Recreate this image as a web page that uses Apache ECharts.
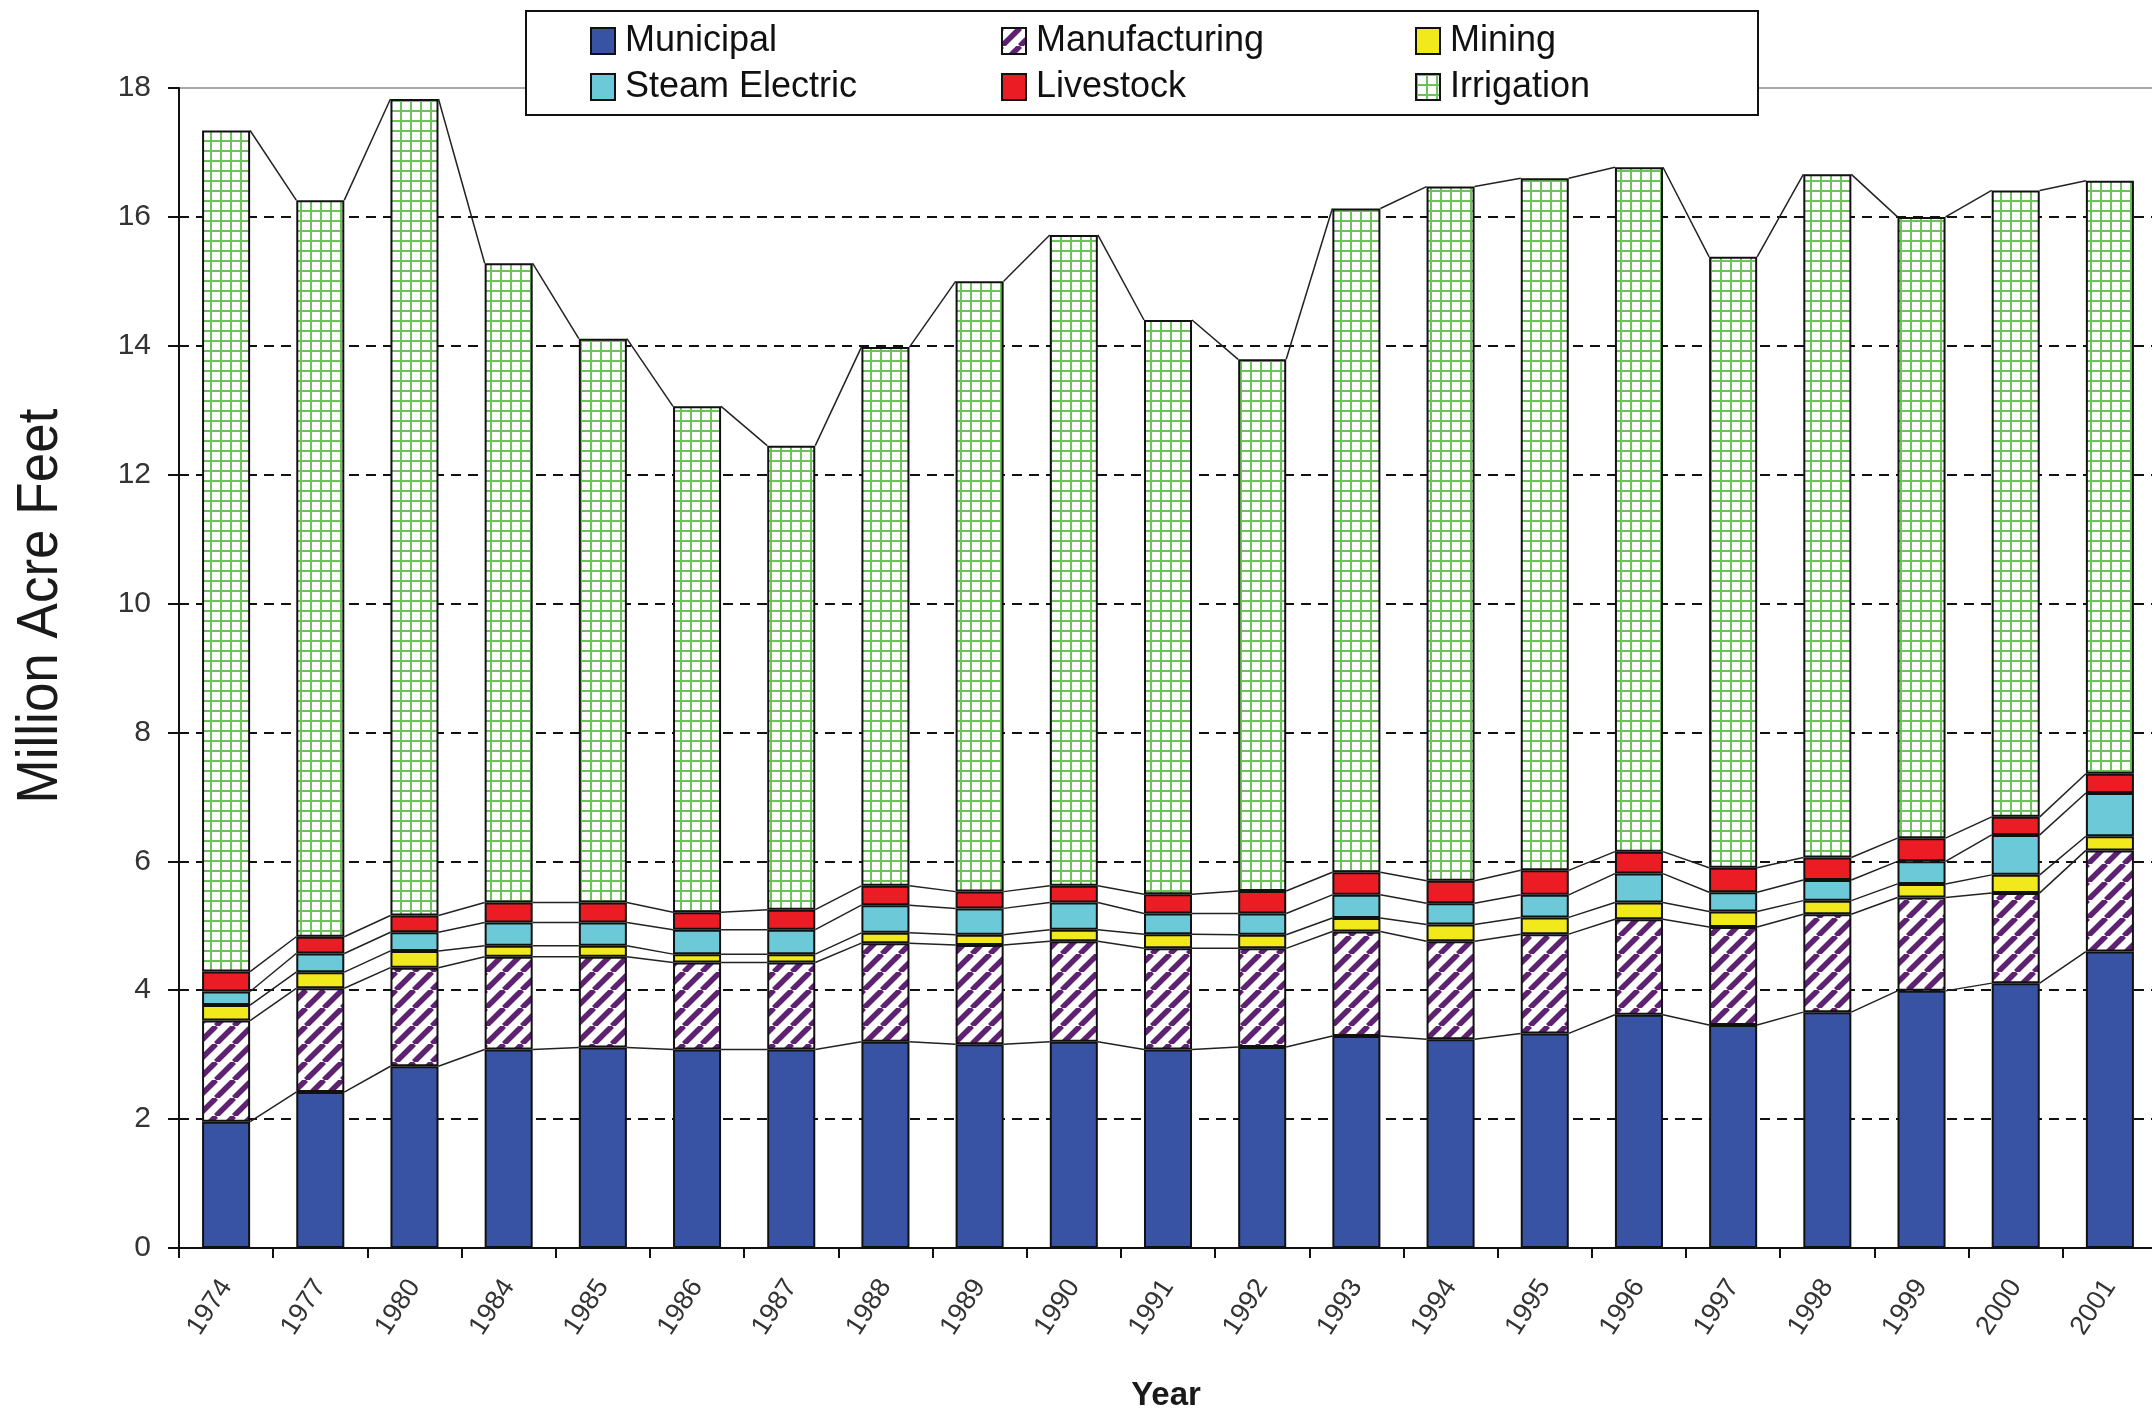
<!DOCTYPE html>
<html>
<head>
<meta charset="utf-8">
<script src="https://cdn.jsdelivr.net/npm/echarts@6/dist/echarts.min.js"></script>
<style>
  html, body { margin: 0; padding: 0; background: #fff; }
  #chart { width: 2152px; height: 1419px; }
</style>
</head>
<body>
<div id="chart"></div>
<script>
// Annual water use by category, million acre-feet
const years = ['1974','1977','1980','1984','1985','1986','1987','1988','1989','1990','1991',
               '1992','1993','1994','1995','1996','1997','1998','1999','2000','2001'];
const municipal     = [1.96,2.42,2.82,3.08,3.11,3.08,3.08,3.20,3.16,3.20,3.08,3.12,3.29,3.24,3.33,3.62,3.46,3.66,3.99,4.11,4.60];
const manufacturing = [1.57,1.61,1.53,1.44,1.41,1.35,1.35,1.53,1.54,1.56,1.57,1.53,1.62,1.52,1.54,1.48,1.52,1.52,1.45,1.40,1.57];
const mining        = [0.24,0.25,0.26,0.17,0.17,0.13,0.13,0.16,0.16,0.18,0.22,0.21,0.21,0.26,0.26,0.26,0.24,0.21,0.21,0.28,0.22];
const steamElectric = [0.21,0.29,0.29,0.36,0.36,0.38,0.38,0.43,0.41,0.42,0.32,0.33,0.36,0.33,0.35,0.45,0.30,0.32,0.35,0.62,0.67];
const livestock     = [0.31,0.26,0.26,0.31,0.31,0.27,0.31,0.30,0.26,0.26,0.30,0.35,0.35,0.35,0.38,0.34,0.38,0.35,0.36,0.28,0.30];
const irrigation    = [13.05,11.43,12.67,9.92,8.75,7.85,7.20,8.36,9.47,10.10,8.91,8.25,10.30,10.77,10.74,10.62,9.48,10.60,9.64,9.72,9.20];
const yTicks = [0, 2, 4, 6, 8, 10, 12, 14, 16, 18];

const seriesNames = ['Municipal','Manufacturing','Mining','Steam Electric','Livestock','Irrigation'];
const seriesValues = [municipal, manufacturing, mining, steamElectric, livestock, irrigation];

// Fill patterns
function stripePattern() {
  const s = 18, c = document.createElement('canvas');
  c.width = s; c.height = s;
  const g = c.getContext('2d');
  g.fillStyle = '#ffffff'; g.fillRect(0, 0, s, s);
  g.strokeStyle = '#5f2272'; g.lineWidth = 5.5;
  [-s, 0, s].forEach(ox => {
    g.beginPath(); g.moveTo(ox, s); g.lineTo(ox + s, 0); g.stroke();
  });
  return c;
}
function gridPattern() {
  const s = 10, c = document.createElement('canvas');
  c.width = s; c.height = s;
  const g = c.getContext('2d');
  g.fillStyle = '#ffffff'; g.fillRect(0, 0, s, s);
  g.fillStyle = '#6cc35a';
  g.fillRect(0, 0, s, 2);
  g.fillRect(0, 0, 2, s);
  return c;
}

const fills = [
  '#3953a4',
  { image: stripePattern(), repeat: 'repeat' },
  '#f1e91b',
  '#6ccad8',
  '#ec1c24',
  { image: gridPattern(), repeat: 'repeat' }
];

// Cumulative stack tops, used for the connector lines between bars
const n = years.length;
const cumulative = [];
let running = new Array(n).fill(0);
seriesValues.forEach(vals => {
  running = running.map((r, i) => +(r + vals[i]).toFixed(4));
  cumulative.push(running.slice());
});
const connectorData = [];
for (let i = 0; i < n - 1; i++) {
  connectorData.push([i].concat(cumulative.map(c => c[i]), cumulative.map(c => c[i + 1])));
}

const BAR_RATIO = 0.51;

const barSeries = seriesNames.map((name, k) => ({
  name,
  type: 'bar',
  stack: 'use',
  barWidth: (BAR_RATIO * 100) + '%',
  data: seriesValues[k],
  itemStyle: { color: fills[k], borderColor: '#111', borderWidth: 2 },
  emphasis: { disabled: true },
  z: 3
}));

const connectorSeries = {
  type: 'custom',
  silent: true,
  z: 2,
  data: connectorData,
  renderItem(params, api) {
    const i = api.value(0);
    const half = api.size([1, 0])[0] * BAR_RATIO / 2;
    const lines = [];
    for (let k = 0; k < seriesNames.length; k++) {
      const a = api.coord([i, api.value(1 + k)]);
      const b = api.coord([i + 1, api.value(1 + seriesNames.length + k)]);
      lines.push({
        type: 'line',
        shape: { x1: a[0] + half, y1: a[1], x2: b[0] - half, y2: b[1] },
        style: { stroke: '#222', lineWidth: 1.5 }
      });
    }
    return { type: 'group', children: lines };
  }
};

const legendText = { fontFamily: 'Liberation Sans, Arial, sans-serif', fontSize: 36, color: '#111', lineHeight: 42, padding: [0, 0, 0, 5] };
function legendColumn(items, left) {
  return {
    orient: 'vertical', left, top: 15, data: items, itemWidth: 24, itemHeight: 26,
    itemGap: 4, icon: 'rect', selectedMode: false, textStyle: legendText, z: 20,
    itemStyle: { borderColor: '#111', borderWidth: 2 }
  };
}

const chart = echarts.init(document.getElementById('chart'), null, { renderer: 'canvas' });
chart.setOption({
  animation: false,
  backgroundColor: '#fff',
  grid: {
    left: 179, right: -5, top: 88, bottom: 171,
    show: true, borderColor: '#8a8a8a', borderWidth: 1.5,
    outerBoundsMode: 'none'
  },
  legend: [
    legendColumn(['Municipal', 'Steam Electric'], 585),
    legendColumn(['Manufacturing', 'Livestock'], 996),
    legendColumn(['Mining', 'Irrigation'], 1410)
  ],
  xAxis: {
    type: 'category',
    data: years,
    axisLine: { lineStyle: { color: '#111', width: 2 } },
    axisTick: { show: true, length: 10, lineStyle: { color: '#111', width: 2 } },
    axisLabel: {
      rotate: 57, margin: 34, fontFamily: 'Liberation Sans, Arial, sans-serif',
      fontSize: 27, color: '#333'
    }
  },
  yAxis: {
    type: 'value',
    min: yTicks[0], max: yTicks[yTicks.length - 1], interval: yTicks[1] - yTicks[0],
    axisLine: { show: true, lineStyle: { color: '#111', width: 2 } },
    axisTick: { show: true, length: 11, lineStyle: { color: '#111', width: 2 } },
    axisLabel: {
      margin: 28, fontFamily: 'Liberation Sans, Arial, sans-serif', fontSize: 30, color: '#333'
    },
    splitLine: {
      show: true,
      lineStyle: {
        color: yTicks.map((t, i) => i === yTicks.length - 1 ? 'rgba(0,0,0,0)' : '#111'),
        width: 2, type: [10, 7]
      }
    }
  },
  graphic: [
    {
      type: 'rect', z: 10,
      shape: { x: 526, y: 11, width: 1232, height: 104 },
      style: { fill: '#fff', stroke: '#111', lineWidth: 2 }
    },
    {
      type: 'text', z: 10,
      x: 41, y: 606, rotation: Math.PI / 2, scaleX: 0.93,
      style: {
        text: 'Million Acre Feet', fontFamily: 'Liberation Sans, Arial, sans-serif',
        fontSize: 57, fill: '#1a1a1a', align: 'center', verticalAlign: 'middle'
      }
    },
    {
      type: 'text', z: 10,
      x: 1166, y: 1396,
      style: {
        text: 'Year', fontFamily: 'Liberation Sans, Arial, sans-serif', fontWeight: 'bold',
        fontSize: 33, fill: '#1a1a1a', align: 'center', verticalAlign: 'middle'
      }
    }
  ],
  series: barSeries.concat([connectorSeries])
});
</script>
</body>
</html>
